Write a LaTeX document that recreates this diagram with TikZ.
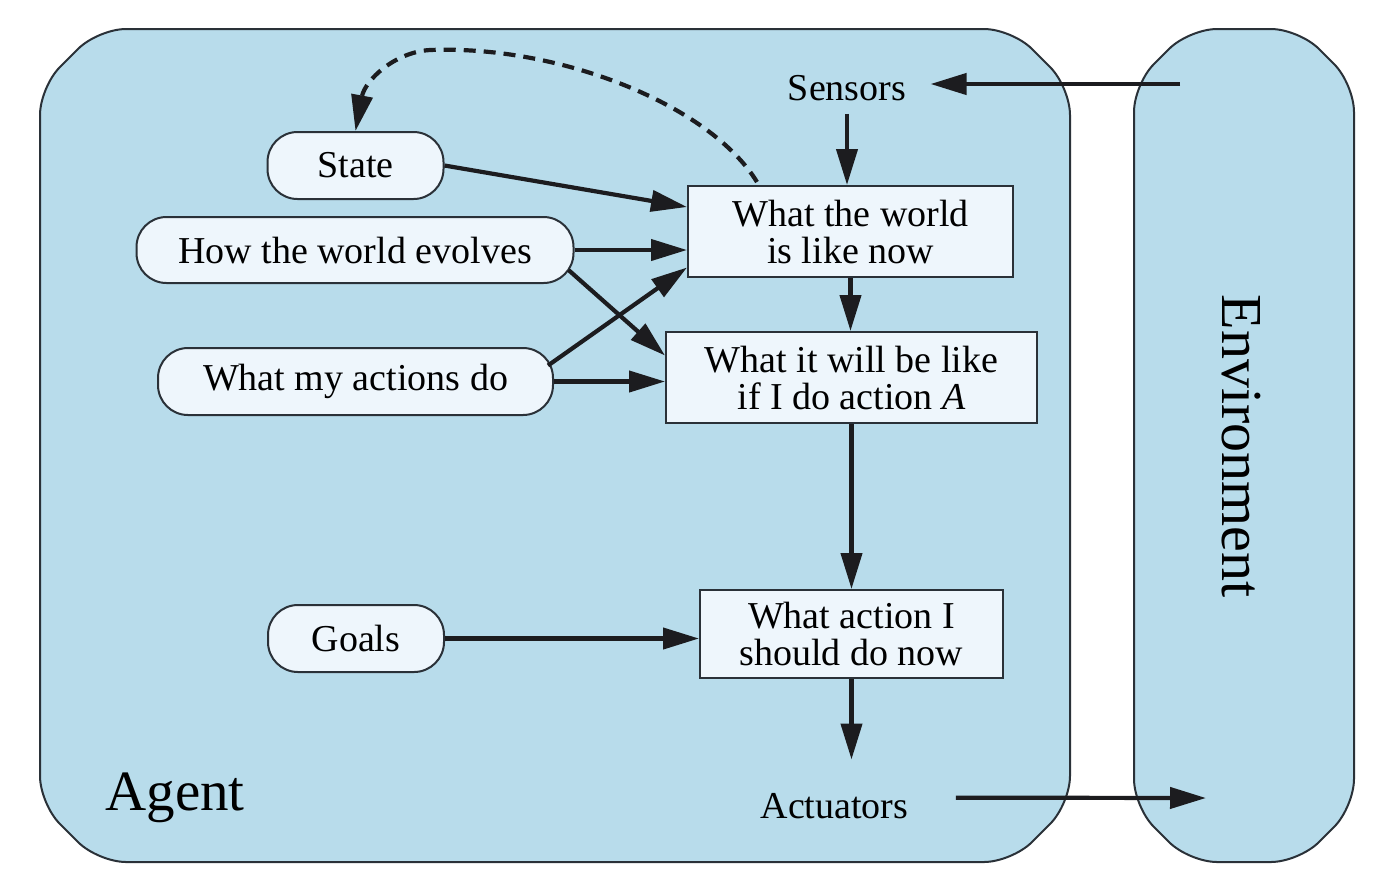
\documentclass[tikz,border=0pt]{standalone}
\usepackage{fontspec}
\setmainfont{Liberation Serif}
\usetikzlibrary{arrows.meta,calc}
\definecolor{agentblue}{HTML}{B8DCEB}
\definecolor{nodefill}{HTML}{EEF6FC}
\definecolor{edgecol}{HTML}{2A3138}
\definecolor{arrcol}{HTML}{1C1C1F}
\begin{document}
\begin{tikzpicture}[x=0.5pt,y=-0.5pt,
 pill/.style={draw=edgecol, line width=1pt, fill=nodefill, rounded corners=15pt, inner sep=0pt, font=\fontsize{19}{18.5}\selectfont},
 boxnode/.style={draw=edgecol, line width=1pt, fill=nodefill, inner sep=0pt, align=center, font=\fontsize{19}{18.5}\selectfont},
 frame/.style={draw=edgecol, line width=1pt, fill=agentblue, rounded corners=14pt},
 arr/.style={draw=arrcol, line width=2.1pt, -{Triangle[length=18pt,width=10.5pt]}},
 lbl/.style={inner sep=0pt, font=\fontsize{19}{19}\selectfont}
]
\useasboundingbox (0,0) rectangle (1382,880);
\fill[white] (0,0) rectangle (1382,880);
% frames
\draw[frame] (40,87) -- (98,29) -- (1012,29) -- (1070,87) -- (1070,804) -- (1012,862) -- (98,862) -- (40,804) -- cycle;
\draw[frame] (1134,84) -- (1189,29) -- (1299,29) -- (1354,84) -- (1354,807) -- (1299,862) -- (1189,862) -- (1134,807) -- cycle;
% nodes
\node[pill, minimum width=88pt, minimum height=33.5pt] (state) at (355.5,165.5) {State};
\node[pill, minimum width=218.5pt, minimum height=33pt] (evolves) at (355,250) {How the world evolves};
\node[pill, minimum width=197.5pt, minimum height=33.5pt] (actions) at (355.5,381.5) {What my actions do};
\node[pill, minimum width=88pt, minimum height=33.5pt] (goals) at (356,638.5) {Goals};
\node[boxnode, minimum width=162.5pt, minimum height=45.5pt] (box1) at (850.5,231.5) {What the world\\is like now};
\node[boxnode, minimum width=185.5pt, minimum height=45.5pt] (box2) at (851.5,377.5) {What it will be like\\if I do action \textit{A}};
\node[boxnode, minimum width=151.5pt, minimum height=44pt] (box3) at (851.5,634) {What action I\\should do now};
\node[lbl, inner xsep=12pt, inner ysep=6.5pt, anchor=base] (sensors) at (847,100) {Sensors};
\node[lbl, anchor=base] (act) at (834.5,818) {Actuators};
\node[anchor=base west, inner sep=0pt, font=\fontsize{28.5}{30}\selectfont] (agent) at (105,810) {Agent};
\node[rotate=-90, anchor=base, inner sep=0pt, font=\fontsize{29}{30}\selectfont] (env) at (1222,446) {Environment};
\coordinate (envout) at (1180,84);
\coordinate (envin) at (1206,798);
% connectors
\draw[arr] (envout) -- (sensors.east |- envout);
\draw[arr] (sensors.south) -- (sensors.south |- box1.north);
\draw[arr] (box1.south) -- (box1.south |- box2.north);
\draw[arr] (box2.south) -- (box2.south |- box3.north);
\draw[arr] (box3.south) -- ($(box3.south |- act.north)+(0,-33)$);
\draw[arr] ($(act.east)+(47,-8)$) -- (envin);
\draw[arr] (state.east) -- ($(box1.west)+(0,-24.5)$);
\draw[arr] (evolves.east) -- (evolves.east -| box1.west);
\draw[arr] ($(evolves.east)+(-6,20)$) -- ($(box2.west)+(0,-22)$);
\draw[arr] ($(actions.east)+(-6,-16)$) -- ($(box1.west)+(0,36)$);
\draw[arr] (actions.east) -- (actions.east -| box2.west);
\draw[arr] (goals.east) -- (goals.east -| box3.west);
\draw[arr, dash pattern=on 6pt off 4pt] ($(box1.north)+(-93.5,-3)$) .. controls (710,105) and (560,45) .. (430,50) .. controls (395,52) and (365,80) .. (state.north);
\end{tikzpicture}
\end{document}
